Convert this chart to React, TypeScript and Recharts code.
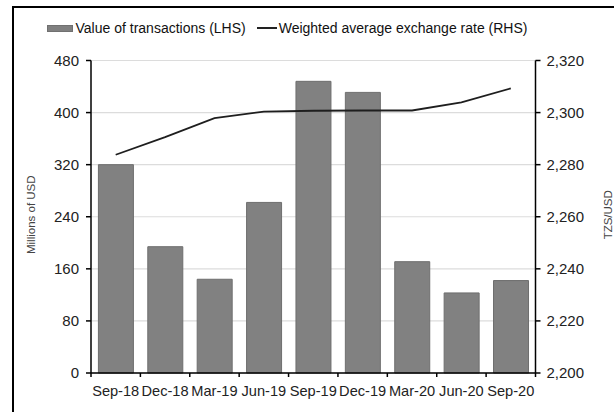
import {
    Bar,
    CartesianGrid,
    ComposedChart,
    Line,
    XAxis,
    YAxis,
} from "recharts";

const quarters = [
    "Sep-18",
    "Dec-18",
    "Mar-19",
    "Jun-19",
    "Sep-19",
    "Dec-19",
    "Mar-20",
    "Jun-20",
    "Sep-20",
];
const transactionValues = [320, 194, 144, 262, 448, 431, 171, 123, 142];
const exchangeRates = [2283.8, 2290.6, 2297.9, 2300.4, 2300.7, 2300.8, 2300.8, 2303.9, 2309.3];
const lhsTicks = [0, 80, 160, 240, 320, 400, 480];
const rhsTicks = [2200, 2220, 2240, 2260, 2280, 2300, 2320];

const FONT = '"Liberation Sans", Arial, Helvetica, sans-serif';

const data = quarters.map((quarter, i) => ({
    quarter,
    value: transactionValues[i],
    rate: exchangeRates[i],
}));

function QuarterTick(props: any) {
    const { x, y, payload, index, visibleTicksCount } = props;
    const half = payload?.offset ?? 24.7;
    const axisY = y - 13;
    const isLast = index === (visibleTicksCount ?? quarters.length) - 1;
    return (
        <g>
            <line x1={x - half} x2={x - half} y1={axisY} y2={axisY + 4} stroke="#000" strokeWidth={1.5} />
            {isLast && (
                <line x1={x + half} x2={x + half} y1={axisY} y2={axisY + 4} stroke="#000" strokeWidth={1.5} />
            )}
            <text x={x} y={y} dy="0.71em" textAnchor="middle" fontSize={14.6} fill="#222" fontFamily={FONT}>
                {payload.value}
            </text>
        </g>
    );
}

function SideLabel({ viewBox, text, dx }: any) {
    const cx = viewBox.x + dx;
    const cy = viewBox.y + viewBox.height / 2 - 2;
    return (
        <text
            x={cx}
            y={cy}
            transform={`rotate(-90, ${cx}, ${cy})`}
            textAnchor="middle"
            dominantBaseline="central"
            fontSize={11.5}
            fill="#444"
            fontFamily={FONT}
        >
            {text}
        </text>
    );
}

export default function App() {
    return (
        <div
            style={{
                position: "fixed",
                left: 0,
                top: 0,
                width: 614,
                height: 412,
                overflow: "hidden",
                background: "#fff",
                fontFamily: FONT,
            }}
        >
            <div
                style={{
                    position: "absolute",
                    left: 12,
                    top: 6,
                    width: 700,
                    height: 500,
                    borderLeft: "2px solid #000",
                    borderTop: "2px solid #000",
                }}
            />
            <div
                style={{
                    position: "absolute",
                    left: 0,
                    top: 18,
                    width: 574,
                    height: 20,
                    display: "flex",
                    justifyContent: "center",
                    alignItems: "center",
                    fontSize: 14,
                    color: "#111",
                    whiteSpace: "nowrap",
                }}
            >
                <span
                    style={{
                        display: "inline-block",
                        width: 26,
                        height: 7,
                        background: "#808080",
                        border: "1px solid #707070",
                        boxSizing: "border-box",
                        marginRight: 3,
                    }}
                />
                <span>Value of transactions (LHS)</span>
                <span
                    style={{
                        display: "inline-block",
                        width: 20,
                        height: 2,
                        background: "#222",
                        marginLeft: 11,
                        marginRight: 2,
                    }}
                />
                <span>Weighted average exchange rate (RHS)</span>
            </div>
            <div style={{ position: "absolute", left: 0, top: 0 }}>
                <ComposedChart
                    width={614}
                    height={412}
                    data={data}
                    margin={{ top: 60.5, right: 0, bottom: 0, left: 0 }}
                    barCategoryGap="15%"
                >
                    <CartesianGrid
                        yAxisId="left"
                        vertical={false}
                        stroke="#dcdcdc"
                        strokeWidth={1.2}
                    />
                    <XAxis
                        dataKey="quarter"
                        height={39}
                        interval={0}
                        tickLine={false}
                        tickSize={6}
                        tickMargin={7}
                        axisLine={{ stroke: "#000", strokeWidth: 1.5 }}
                        tick={<QuarterTick />}
                    />
                    <YAxis
                        yAxisId="left"
                        width={91}
                        domain={[0, 480]}
                        ticks={lhsTicks}
                        interval={0}
                        tickSize={5}
                        tickMargin={7}
                        axisLine={{ stroke: "#000", strokeWidth: 1.5 }}
                        tickLine={{ stroke: "#000", strokeWidth: 1.5 }}
                        tick={{ fontSize: 15, fill: "#222", fontFamily: FONT }}
                        label={(p: any) => <SideLabel {...p} text="Millions of  USD" dx={30.5} />}
                    />
                    <YAxis
                        yAxisId="right"
                        orientation="right"
                        width={78.5}
                        domain={[2200, 2320]}
                        ticks={rhsTicks}
                        interval={0}
                        tickSize={5}
                        tickMargin={6}
                        tickFormatter={(v: number) => v.toLocaleString("en-US")}
                        axisLine={{ stroke: "#000", strokeWidth: 1.5 }}
                        tickLine={{ stroke: "#000", strokeWidth: 1.5 }}
                        tick={{ fontSize: 15, fill: "#222", fontFamily: FONT }}
                        label={(p: any) => <SideLabel {...p} text="TZS/USD" dx={72} />}
                    />
                    <Bar
                        yAxisId="left"
                        dataKey="value"
                        name="Value of transactions (LHS)"
                        fill="#818181"
                        stroke="#6e6e6e"
                        strokeWidth={1}
                        isAnimationActive={false}
                    />
                    <Line
                        yAxisId="right"
                        dataKey="rate"
                        name="Weighted average exchange rate (RHS)"
                        type="linear"
                        stroke="#1e1e1e"
                        strokeWidth={1.8}
                        dot={false}
                        isAnimationActive={false}
                    />
                </ComposedChart>
            </div>
        </div>
    );
}
